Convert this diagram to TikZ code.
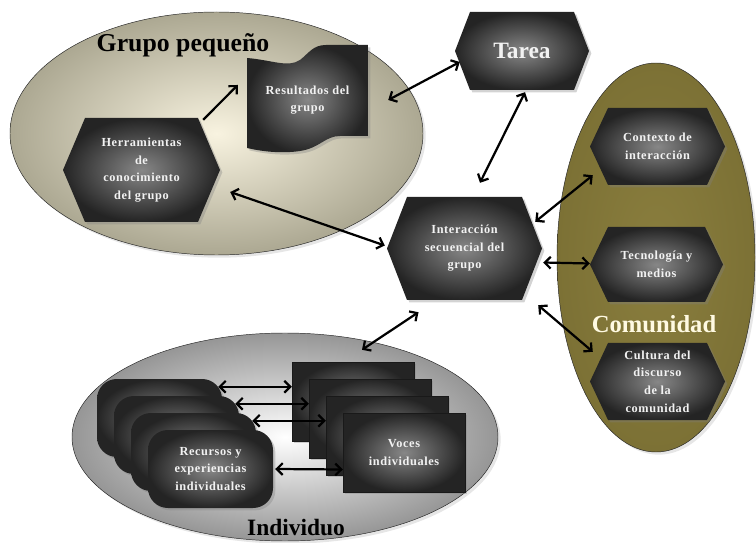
\documentclass[tikz,border=0pt]{standalone}
\usepackage{fontspec}
\setmainfont{Liberation Serif}
\newfontfamily\cajafont[LetterSpace=5]{Liberation Serif}
\usetikzlibrary{arrows.meta,shapes.geometric,shadows}
\definecolor{grupoin}{RGB}{248,243,224}
\definecolor{grupoout}{RGB}{172,168,146}
\definecolor{indivout}{RGB}{150,150,150}
\definecolor{olivain}{RGB}{138,126,62}
\definecolor{olivaout}{RGB}{124,113,53}
\definecolor{cajain}{RGB}{135,135,135}
\definecolor{cajaout}{RGB}{36,36,36}
\definecolor{crema}{RGB}{255,250,226}
\newcommand{\px}{0.03cm}
% nombre, x, y, media anchura, media altura, punta, texto
\newcommand{\hexagono}[7]{%
	\path[caja] (#2-#4,#3) -- (#2-#4+#6,#3-#5) -- (#2+#4-#6,#3-#5) -- (#2+#4,#3)
		-- (#2+#4-#6,#3+#5) -- (#2-#4+#6,#3+#5) -- cycle;
	\node[texto,minimum width=2*#4*\px,minimum height=2*#5*\px] (#1) at (#2,#3) {#7};
}

\begin{document}
\begin{tikzpicture}[x=\px,y=-\px,
	caja/.style={inner color=cajain,outer color=cajaout,
		drop shadow={opacity=0.35,shadow xshift=2pt,shadow yshift=-2pt}},
	texto/.style={text=black!5,font=\cajafont\bfseries\fontsize{10.5}{15}\selectfont,align=center,inner sep=0pt},
	titulo/.style={font=\bfseries\fontsize{21}{25}\selectfont,inner sep=0pt},
	zona/.style={ellipse,draw=black!85,thin,inner sep=0pt,drop shadow={opacity=0.2}},
	flecha/.style={line width=1.9pt,-{Straight Barb[length=5pt,width=10pt]}},
	doble/.style={flecha,{Straight Barb[length=5pt,width=10pt]}-{Straight Barb[length=5pt,width=10pt]}}
]
\useasboundingbox (0,0) rectangle (756,543);

%Zonas
\node[zona,inner color=grupoin,outer color=grupoout,minimum width=413*\px,minimum height=243*\px] (grupo) at (216.5,133.5) {};
\node[zona,inner color=olivain,outer color=olivaout,minimum width=198*\px,minimum height=389*\px] (comun) at (656,257.5) {};
\node[zona,inner color=white,outer color=indivout,minimum width=426*\px,minimum height=208*\px] (indiv) at (285,437) {};

\node[titulo,font=\bfseries\fontsize{22}{26}\selectfont] (tgrupo) at (183,45) {Grupo pequeño};
\node[titulo,text=crema] (tcomun) at (654,324) {Comunidad};
\node[titulo,font=\bfseries\fontsize{20}{24}\selectfont] (tindiv) at (296,528) {Individuo};

%Hexagonos
\hexagono{herr}{141.5}{170}{78.5}{52}{22}{Herramientas\\de\\conocimiento\\del grupo}
\hexagono{tarea}{522}{51}{67}{39}{15}{\rmfamily\fontsize{20}{24}\selectfont Tarea}
\hexagono{inter}{464.5}{248.5}{77.5}{51.5}{20}{Interacción\\secuencial del\\grupo}
\hexagono{contexto}{657.5}{146.5}{67.5}{38.5}{18}{Contexto de\\interacción}
\hexagono{tecno}{656.5}{264.5}{66.5}{37.5}{18}{Tecnología y\\medios}
\hexagono{cultura}{657.5}{381.5}{67.5}{38.5}{18}{Cultura del\\discurso\\de la\\comunidad}

%Resultados
\path[caja] (247,58) .. controls (272,60) and (288,68) .. (300,60)
	.. controls (309,53) and (313,45) .. (326,45) -- (368,45) -- (368,136) -- (340,136)
	.. controls (325,136) and (320,148) .. (300,151)
	.. controls (280,154) and (260,151) .. (247,148) -- cycle;
\node[texto,minimum width=121*\px,minimum height=114*\px] (res) at (307.5,100) {Resultados del\\grupo};

%Recursos y voces
\foreach \k in {3,2,1}
{
	\node[caja,rounded corners=17pt,minimum width=125*\px,minimum height=78*\px] (rec\k) at (210.5-17*\k,469-17*\k) {};
	\node[caja,draw=black!90,minimum width=122*\px,minimum height=79*\px] (voz\k) at (404-17*\k,452.5-17*\k) {};
}
\node[caja,texto,rounded corners=17pt,minimum width=125*\px,minimum height=78*\px] (rec0) at (210.5,469) {Recursos y\\experiencias\\individuales};
\node[caja,texto,draw=black!90,minimum width=122*\px,minimum height=79*\px] (voz0) at (404,452.5) {Voces\\individuales};

%Flechas
\foreach \k in {1,2,3}
	\draw[doble] ([shift={(-4,8)}]rec\k.north east) -- ([shift={(0,25)}]voz\k.north west);
\draw[doble] ([shift={(2,0)}]rec0.east) -- ([shift={(0,17)}]voz0.west);

\draw[flecha] ([shift={(-17,2)}]herr.north east) -- ([shift={(-9,-15)}]res.west);
\draw[doble] ([shift={(20,0)}]res.east) -- ([shift={(5,11)}]tarea.west);
\draw[doble] ([shift={(3,2)}]tarea.south) -- ([shift={(15.5,-14)}]inter.north);
\draw[doble] ([shift={(10,22)}]herr.east) -- ([shift={(-2,-3)}]inter.west);
\draw[doble] ([shift={(-7,25)}]inter.north east) -- ([shift={(3,-10)}]contexto.south west);
\draw[doble] ([shift={(1,14)}]inter.east) -- ([shift={(0,-1)}]tecno.west);
\draw[doble] ([shift={(-4,5)}]inter.south east) -- ([shift={(3,9)}]cultura.north west);
\draw[doble] ([shift={(-46,12)}]inter.south) -- ([shift={(77,17)}]indiv.north);

\end{tikzpicture}
\end{document}
